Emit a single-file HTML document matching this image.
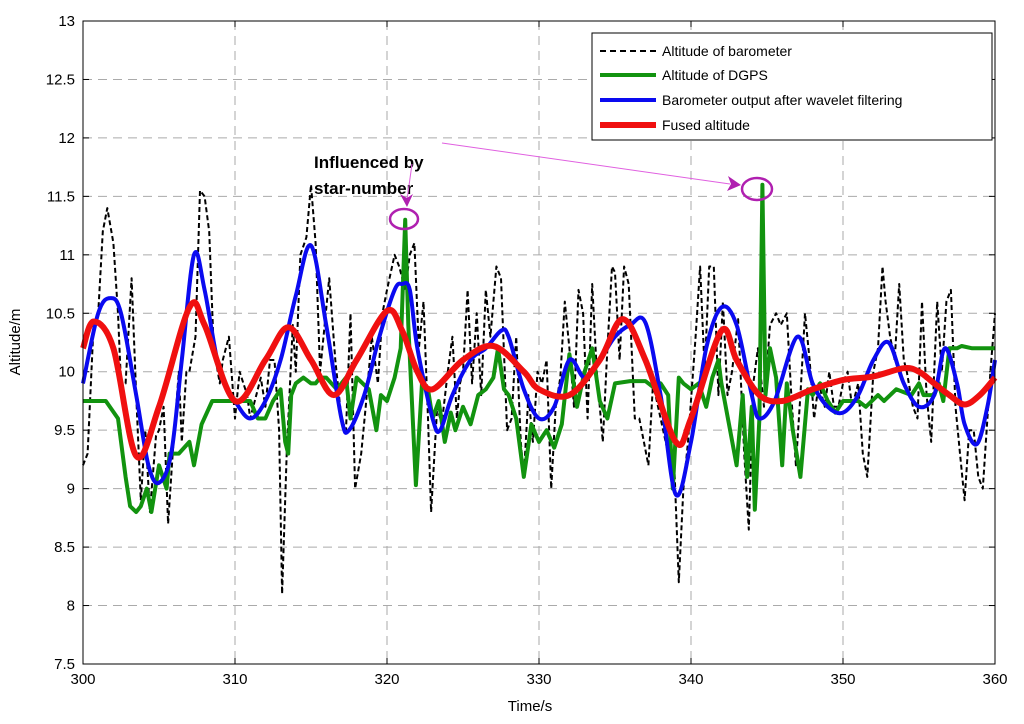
<!DOCTYPE html>
<html><head><meta charset="utf-8"><style>
html,body{margin:0;padding:0;background:#fff;}
svg{display:block;font-family:"Liberation Sans",Arial,sans-serif;}
</style></head><body>
<svg id="chart" width="1024" height="724" viewBox="0 0 1024 724" xmlns="http://www.w3.org/2000/svg">
<rect x="0" y="0" width="1024" height="724" fill="#fff"/>
<g id="grid"></g>
<g id="ticks"></g>
<g id="series"></g>
<rect x="83" y="21" width="912" height="643" fill="none" stroke="#000" stroke-width="1"/>
<text x="530" y="711" font-size="15" text-anchor="middle">Time/s</text>
<text x="0" y="0" font-size="15" text-anchor="middle" transform="translate(20,342) rotate(-90)">Altitude/m</text>
<g>
<text x="314" y="168" font-size="17" font-weight="bold">Influenced by</text>
<text x="314" y="194" font-size="17" font-weight="bold">star-number</text>
<line x1="412" y1="164" x2="407" y2="200" stroke="#e060e0" stroke-width="1"/>
<polygon points="400,194 407,207 413,194 407,198" fill="#b020b0"/>
<line x1="442" y1="143" x2="730" y2="184" stroke="#e060e0" stroke-width="1"/>
<polygon points="728,176 741,185 727,191 731,184" fill="#b020b0"/>
<ellipse cx="404" cy="219" rx="14" ry="10" fill="none" stroke="#b020b0" stroke-width="2.5"/>
<ellipse cx="757" cy="189" rx="15" ry="11" fill="none" stroke="#b020b0" stroke-width="2.5"/>
</g>
<g>
<rect x="592" y="33" width="400" height="107" fill="#fff" stroke="#000" stroke-width="1"/>
<line x1="600" y1="51" x2="656" y2="51" stroke="#000" stroke-width="2" stroke-dasharray="6,4"/>
<text x="662" y="56" font-size="14">Altitude of barometer</text>
<line x1="600" y1="75" x2="656" y2="75" stroke="#12930f" stroke-width="4"/>
<text x="662" y="80" font-size="14">Altitude of DGPS</text>
<line x1="600" y1="100" x2="656" y2="100" stroke="#0a0af0" stroke-width="4"/>
<text x="662" y="105" font-size="14">Barometer output after wavelet filtering</text>
<line x1="600" y1="125" x2="656" y2="125" stroke="#f01010" stroke-width="6"/>
<text x="662" y="130" font-size="14">Fused altitude</text>
</g>
</svg>
<script>
const xTicks=[300,310,320,330,340,350,360];
const yTicks=[7.5,8,8.5,9,9.5,10,10.5,11,11.5,12,12.5,13];
const fusedT=[300,300.7,302,303.5,305,307,308,310,312,313.5,315,316.5,318,320,321,322,323,325,327,329,330,332,334,335.5,337,339,340,342,343,344.5,346,348,350,352,354,355,356,357,358,359,360];
const fusedV=[10.2,10.43,10.2,9.28,9.7,10.55,10.4,9.75,10.1,10.38,10.1,9.8,10.1,10.52,10.35,10.0,9.85,10.1,10.22,10.0,9.85,9.8,10.1,10.45,10.1,9.4,9.6,10.35,10.1,9.8,9.75,9.85,9.93,9.96,10.03,10.0,9.9,9.8,9.72,9.8,9.95];
const waveT=[300,301,301.8,302.5,303.5,304.3,305,305.8,306.5,307.3,308,309,310,311,312,313,314,315,316,317,317.5,318.5,319.5,320.5,321,321.5,322,323,323.5,324.3,325.5,326.5,327.5,328,329,330,331,332,333,334,335,336,337,338,339,340,341,342,343,344,344.5,345.5,347,348,349,350,351,352,353,354,355,356,356.7,357.5,358,358.8,359.5,360];
const waveV=[9.9,10.5,10.63,10.5,9.8,9.2,9.05,9.3,10.1,11.0,10.7,10.0,9.75,9.6,9.75,10.1,10.65,11.08,10.4,9.6,9.5,9.8,10.3,10.7,10.75,10.7,10.2,9.6,9.5,9.8,10.1,10.2,10.35,10.3,9.85,9.6,9.7,10.1,9.95,10.1,10.3,10.4,10.42,9.8,8.95,9.4,10.2,10.55,10.4,9.8,9.6,9.75,10.3,9.9,9.7,9.65,9.8,10.1,10.25,9.9,9.7,9.8,10.2,9.9,9.55,9.38,9.7,10.1];
const dgpsT=[300,301.5,302.3,302.8,303.1,303.5,303.8,304.2,304.5,305,305.5,305.7,306.3,307,307.3,307.8,308.5,309.5,310,311,311.5,312,312.5,313,313.3,313.5,313.7,314,314.5,315,315.3,315.6,316,316.7,317.3,317.6,318,318.8,319.3,319.6,320,320.5,320.9,321.2,321.4,321.9,322.3,322.7,323,323.4,323.8,324.2,324.5,325,325.5,326,326.5,327,327.3,327.7,328,328.5,329,329.5,330,330.5,331,331.5,332,332.5,333,333.5,334,334.5,335,336,337,337.7,338,338.5,338.8,339.2,339.5,340,340.5,341,341.4,341.8,342,342.5,343,343.4,343.7,344,344.2,344.5,344.7,344.9,345.2,345.6,346,346.3,346.7,347.2,347.7,348,348.5,349,349.5,350,351,351.5,352.3,352.7,353.5,354.5,355,355.3,356,356.3,356.6,357,357.5,357.8,358.5,360];
const dgpsV=[9.75,9.75,9.6,9.1,8.85,8.8,8.85,9.0,8.8,9.2,9.0,9.3,9.3,9.4,9.2,9.55,9.75,9.75,9.75,9.75,9.6,9.6,9.75,9.85,9.4,9.3,9.8,9.9,9.95,9.9,9.9,9.95,9.95,9.85,9.95,9.6,9.95,9.85,9.5,9.8,9.75,9.95,10.2,11.3,10.4,9.03,9.9,9.85,9.6,9.75,9.4,9.65,9.5,9.7,9.55,9.8,9.85,9.95,10.2,9.85,9.8,9.6,9.1,9.55,9.4,9.5,9.35,9.55,10.15,9.7,10.0,10.2,9.75,9.6,9.9,9.92,9.92,9.85,9.9,9.8,9.0,9.95,9.9,9.85,9.9,9.7,9.95,10.1,9.9,9.55,9.2,9.8,9.1,9.7,8.82,9.6,11.6,9.8,10.2,9.95,9.2,9.9,9.5,9.1,9.85,9.8,9.9,9.75,9.65,9.75,9.75,9.7,9.8,9.75,9.85,9.8,9.9,9.8,9.8,9.9,9.75,10.2,10.2,10.22,10.2,10.2];
const baroT=[300,300.3,300.7,301,301.3,301.6,302,302.3,302.5,302.8,303.2,303.5,303.8,304.1,304.4,304.8,305,305.3,305.6,305.9,306.3,306.5,306.8,307,307.4,307.7,308,308.3,308.6,309,309.2,309.6,310,310.3,310.8,311,311.4,311.7,312,312.3,312.6,312.9,313.1,313.4,313.8,314,314.3,314.7,315,315.3,315.6,316.2,316.6,317,317.3,317.6,317.9,318.3,318.6,319,319.4,319.7,320,320.5,320.8,321.2,321.5,321.8,322.1,322.4,322.7,322.9,323.3,323.6,324,324.3,324.6,324.8,325,325.3,325.6,325.9,326.2,326.5,326.8,327.2,327.5,327.9,328.2,328.5,328.8,329,329.3,329.6,329.9,330.2,330.5,330.8,331.1,331.4,331.7,332,332.3,332.6,332.9,333.2,333.5,333.8,334.2,334.5,334.8,335,335.3,335.6,335.9,336.3,336.6,336.9,337.2,337.5,338,338.5,338.9,339.2,339.5,339.8,340.3,340.6,340.9,341.2,341.5,341.8,342.1,342.4,342.7,343.1,343.5,343.8,344.1,344.4,344.8,345.2,345.6,345.9,346.3,346.6,346.9,347.2,347.5,347.8,348.1,348.4,348.8,349.1,349.4,349.7,350,350.3,350.6,351,351.3,351.6,352,352.3,352.6,352.8,353.1,353.4,353.7,354,354.2,354.6,354.9,355.2,355.5,355.8,356.2,356.5,356.8,357.1,357.4,357.7,358,358.3,358.6,358.9,359.2,359.5,359.7,360];
const baroV=[9.2,9.3,10.4,10.5,11.2,11.4,11.1,10.5,9.9,9.9,10.8,9.8,8.9,9.5,8.8,9.45,9.5,9.7,8.7,9.3,10.0,9.4,10.0,10.0,10.3,11.55,11.5,11.2,10.2,9.9,10.1,10.3,9.6,10.0,9.8,9.6,9.8,9.95,9.7,10.1,10.1,9.5,8.1,9.3,10.4,10.0,11.0,11.15,11.6,11.1,10.0,10.8,10.1,9.6,9.5,10.5,9.0,9.3,9.7,10.3,9.9,10.5,10.7,11.0,10.9,10.7,11.0,11.1,10.2,10.6,9.6,8.8,9.7,9.55,10.0,10.3,9.6,9.9,10.0,10.7,9.9,10.5,9.8,10.7,10.3,10.9,10.8,9.5,9.6,10.3,9.4,9.1,9.8,9.4,10.0,9.9,10.1,9.0,9.7,9.95,10.6,10.2,9.7,10.7,10.5,9.6,10.75,10.0,9.4,10.2,10.9,10.85,10.1,10.9,10.75,9.6,9.6,9.4,9.2,9.9,9.6,9.3,9.2,8.2,9.0,9.4,10.3,10.9,10.0,10.9,10.9,9.8,10.6,9.8,10.0,10.45,9.3,8.65,9.9,10.2,9.7,10.4,10.5,10.4,10.5,9.8,9.2,9.8,10.5,10.1,9.6,9.9,9.7,10.0,9.7,9.7,9.9,10.0,9.7,9.9,9.3,9.1,10.0,10.2,10.9,10.6,10.3,10.1,10.75,10.1,10.0,9.7,9.6,10.6,9.8,9.4,10.6,10.0,10.6,10.7,9.7,9.3,8.9,9.5,9.5,9.1,9.0,9.6,10.0,10.5];

const NS="http://www.w3.org/2000/svg";
const L=83,R=995,T=21,B=664;
const xs=t=>L+(t-300)/(360-300)*(R-L);
const ys=v=>B-(v-7.5)/(13-7.5)*(B-T);
const grid=document.getElementById('grid'),ticks=document.getElementById('ticks'),series=document.getElementById('series');
function mk(tag,attrs,parent){const e=document.createElementNS(NS,tag);for(const k in attrs)e.setAttribute(k,attrs[k]);parent.appendChild(e);return e;}
xTicks.forEach(t=>{
  const x=xs(t);
  if(t>300&&t<360){const g=mk('line',{x1:x,y1:T,x2:x,y2:B,stroke:'#aaa','stroke-width':1,'stroke-dasharray':'9,6'},grid);
  
  }
  mk('line',{x1:x,y1:B,x2:x,y2:B-6,stroke:'#000'},ticks);
  mk('line',{x1:x,y1:T,x2:x,y2:T+6,stroke:'#000'},ticks);
  const tx=mk('text',{x:x,y:B+20,'font-size':15,'text-anchor':'middle'},ticks);
  tx.textContent=t;
  
  
});
yTicks.forEach(v=>{
  const y=ys(v);
  if(v>7.5&&v<13){const g=mk('line',{x1:L,y1:y,x2:R,y2:y,stroke:'#aaa','stroke-width':1,'stroke-dasharray':'9,6'},grid);
  
  }
  mk('line',{x1:L,y1:y,x2:L+6,y2:y,stroke:'#000'},ticks);
  mk('line',{x1:R,y1:y,x2:R-6,y2:y,stroke:'#000'},ticks);
  const tx=mk('text',{x:L-8,y:y+5,'font-size':15,'text-anchor':'end'},ticks);
  tx.textContent=v;
  
  
});
function line(T_,V_,attrs,name,smooth){
  const P=T_.map((t,i)=>[xs(t),ys(V_[i])]);
  let d='M'+P[0][0].toFixed(1)+','+P[0][1].toFixed(1);
  for(let i=0;i<P.length-1;i++){
    if(!smooth){d+='L'+P[i+1][0].toFixed(1)+','+P[i+1][1].toFixed(1);continue;}
    const p0=P[Math.max(i-1,0)],p1=P[i],p2=P[i+1],p3=P[Math.min(i+2,P.length-1)];
    const c1=[p1[0]+(p2[0]-p0[0])/6,p1[1]+(p2[1]-p0[1])/6];
    const c2=[p2[0]-(p3[0]-p1[0])/6,p2[1]-(p3[1]-p1[1])/6];
    d+='C'+c1[0].toFixed(1)+','+c1[1].toFixed(1)+' '+c2[0].toFixed(1)+','+c2[1].toFixed(1)+' '+p2[0].toFixed(1)+','+p2[1].toFixed(1);
  }
  const p=mk('path',Object.assign({d:d,fill:'none','stroke-linejoin':'round'},attrs),series);
  
  
}
line(baroT,baroV,{stroke:'#000','stroke-width':2,'stroke-dasharray':'5,3'},'barometer-line',false);
line(dgpsT,dgpsV,{stroke:'#12930f','stroke-width':4},'dgps-line',false);
line(waveT,waveV,{stroke:'#0a0af0','stroke-width':4},'wavelet-line',true);
line(fusedT,fusedV,{stroke:'#f01010','stroke-width':6},'fused-line',true);
</script>
</body></html>
